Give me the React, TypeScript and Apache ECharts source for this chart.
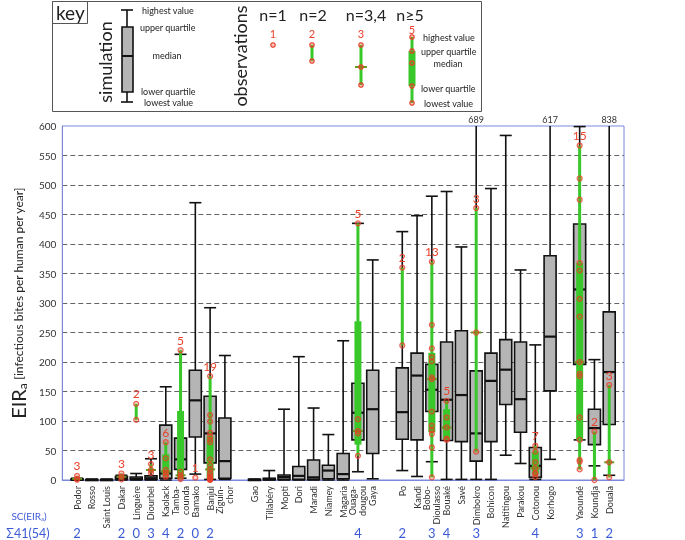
import React, { useEffect, useRef } from 'react';
import * as echarts from 'echarts';

const FONT = 'Lato';
const Y_MAX = 600;
const BLUE = '#7a88dd';
const BLUE_TXT = '#3b5bd6';
const GREEN = '#38c82a';
const RED = '#e8402a';

// site groups (blank category between groups)
const westSites = ['Podor', 'Rosso', 'Saint Louis', 'Dakar', 'Linguère', 'Diourbel', 'Kaolack', 'Tamba-\ncounda', 'Bamako', 'Banjul', 'Ziguin-\nchor'];
const sahelSites = ['Gao', 'Tillabéry', 'Mopti', 'Dori', 'Maradi', 'Niamey', 'Magaria', 'Ouaga-\ndougou', 'Gaya'];
const coastSites = ['Po', 'Kandi', 'Bobo-\nDioulasso', 'Bouaké', 'Savé', 'Dimbokro', 'Bohicon', 'Natitingou', 'Parakou', 'Cotonou', 'Korhogo'];
const centralSites = ['Yaoundé', 'Koundja', 'Douala'];

// simulation box statistics, aligned with the sites above (in order)
const simLow = [0, 0, 0, 0, 0, 0, 0, 3, 10, 1, 1, 0, 0, 0, 0, 0, 0, 0, 14, 2, 16, 6, 31, 1, 1, 1, 1, 42, 28, 1, 35, 68, 24, 8];
const simQ1 = [0, 0, 0, 1, 1, 1, 3, 18, 73, 29, 3, 0, 0.5, 1, 1, 1, 2, 2, 68, 45, 69, 68, 116, 67, 65, 32, 65, 128, 81, 4.5, 151, 196, 60, 94];
const simMedian = [0.5, 0.3, 0.3, 3, 2, 3, 11, 35, 135, 79, 32, 0.3, 1.5, 5, 7, 4.5, 16, 10, 114, 120, 115, 177, 153, 136, 144, 79, 168, 187, 137, 24, 243, 323, 88, 183];
const simQ3 = [2, 0.8, 0.8, 6, 5, 7, 93, 71, 186, 142, 105, 1, 3, 8.5, 23, 34, 25, 45, 164, 186, 190, 215, 196, 234, 253, 185, 215, 238, 234, 55, 380, 434, 120, 285];
const simHigh = [3, 1.5, 1.5, 8, 11, 36, 158, 213, 470, 292, 211, 1.5, 16, 120, 209, 122, 77, 236, 435, 373, 421, 448, 481, 489, 395, 689, 494, 584, 356, 229, 617, 599, 204, 838];

// observed EIR values per site
const observations: [string, number[]][] = [
  ['Podor', [0.5, 2, 7]],
  ['Dakar', [1, 5.5, 11]],
  ['Linguère', [102, 129]],
  ['Diourbel', [12, 17, 27]],
  ['Kaolack', [5.6, 8.5, 12.4, 17, 36.7, 64]],
  ['Tamba-\ncounda', [1.5, 4, 8, 14, 220]],
  ['Bamako', [4]],
  ['Banjul', [0.3, 0.5, 1, 1.5, 2, 3, 5, 8, 12, 18, 25, 35, 64, 68, 74, 80, 99, 110, 176]],
  ['Ouaga-\ndougou', [41, 79, 83, 103, 435]],
  ['Po', [228, 360]],
  ['Bobo-\nDioulasso', [4.5, 55, 78, 84, 92, 116, 171, 174, 201, 208, 223, 263, 370]],
  ['Bouaké', [68, 70, 89, 106, 134]],
  ['Dimbokro', [48, 250, 461]],
  ['Cotonou', [5, 10, 12, 20, 30, 48, 58]],
  ['Yaoundé', [18, 31, 34, 68, 106, 176, 180, 200, 277, 307, 355, 368, 475, 511, 567]],
  ['Koundja', [0, 82]],
  ['Douala', [4.5, 30, 161]],
];

// SC(EIRa) scores
const scScores: [string, string][] = [
  ['Podor', '2'], ['Dakar', '2'], ['Linguère', '0'], ['Diourbel', '3'], ['Kaolack', '4'],
  ['Tamba-\ncounda', '2'], ['Bamako', '0'], ['Banjul', '2'], ['Ouaga-\ndougou', '4'], ['Po', '2'],
  ['Bobo-\nDioulasso', '3'], ['Bouaké', '4'], ['Dimbokro', '3'], ['Cotonou', '4'],
  ['Yaoundé', '3'], ['Koundja', '1'], ['Douala', '2'],
];
const scTotal = 'Σ41(54)';

const categories = ['', ...westSites, '', ...sahelSites, '', ...coastSites, '', ...centralSites, ''];
const sites = [...westSites, ...sahelSites, ...coastSites, ...centralSites];
const catIndex = (s: string) => categories.indexOf(s);
const scFull = categories.map((c) => {
  const f = scScores.find((e) => e[0] === c && c !== '');
  return f ? f[1] : '';
});

function quantileExc(s: number[], p: number) {
  const n = s.length;
  const pos = p * (n + 1);
  if (pos <= 1) return s[0];
  if (pos >= n) return s[n - 1];
  const lo = Math.floor(pos);
  const fr = pos - lo;
  return s[lo - 1] + fr * (s[lo] - s[lo - 1]);
}

const simData = sites.map((s, i) => [catIndex(s), simLow[i], simQ1[i], simMedian[i], simQ3[i], simHigh[i]]);
const obsData = observations.map(([site, pts]) => {
  const s = [...pts].sort((a, b) => a - b);
  const n = s.length;
  const med = n % 2 ? s[(n - 1) / 2] : (s[n / 2 - 1] + s[n / 2]) / 2;
  const q1 = n >= 5 ? quantileExc(s, 0.25) : s[0];
  const q3 = n >= 5 ? quantileExc(s, 0.75) : s[n - 1];
  return [catIndex(site), s[0], q1, med, q3, s[n - 1], n];
});
const obsPoints = observations.flatMap(([site, pts]) => pts.map((v) => [catIndex(site), v]));

function keyGraphics() {
  const t = (text: string, x: number, y: number, size: number, align = 'left', fill = '#222', rotation = 0) => ({
    type: 'text', x, y, rotation,
    style: { text, x: 0, y: 0, fontSize: size, fontFamily: FONT, fill, align, verticalAlign: 'middle' },
  });
  const ln = (x1: number, y1: number, x2: number, y2: number, stroke = '#111', w = 1.6) => ({
    type: 'line', shape: { x1, y1, x2, y2 }, style: { stroke, lineWidth: w },
  });
  const pt = (x: number, y: number) => ({
    type: 'circle', shape: { cx: x, cy: y, r: 2.2 }, style: { fill: 'rgba(230,60,30,0.3)', stroke: RED, lineWidth: 1.2 },
  });
  return [
    { type: 'rect', shape: { x: 52.5, y: 1.5, width: 429, height: 110 }, style: { fill: '#fff', stroke: '#555', lineWidth: 1 } },
    { type: 'rect', shape: { x: 52.5, y: 1.5, width: 35, height: 22 }, style: { fill: 'none', stroke: '#555', lineWidth: 1 } },
    t('key', 56, 12, 19),
    t('simulation', 105, 62, 18, 'center', '#222', Math.PI / 2),
    ln(127, 10, 127, 27), ln(127, 92, 127, 102), ln(121, 10, 133, 10), ln(121, 102, 133, 102),
    { type: 'rect', shape: { x: 122, y: 27, width: 11, height: 65 }, style: { fill: '#b5b5b5', stroke: '#111', lineWidth: 1.6 } },
    ln(122, 56, 133, 56, '#111', 2),
    t('highest value', 142, 10, 9), t('upper quartile', 140, 27, 9), t('median', 167, 55, 9, 'center'),
    t('lower quartile', 141, 91, 9), t('lowest value', 144, 102, 9),
    t('observations', 240, 56, 18, 'center', '#222', Math.PI / 2),
    t('n=1', 273, 14, 16, 'center'), t('n=2', 313, 14, 16, 'center'), t('n=3,4', 366, 14, 16, 'center'), t('n≥5', 410, 14, 16, 'center'),
    t('1', 273, 33, 11, 'center', RED), pt(273, 45),
    t('2', 312, 33, 11, 'center', RED), ln(312, 45, 312, 61, GREEN, 3), pt(312, 45), pt(312, 61),
    t('3', 361, 33, 11, 'center', RED), ln(361, 45, 361, 85, GREEN, 3), ln(355, 67, 367, 67, '#6a9a20', 2), pt(361, 45), pt(361, 67), pt(361, 85),
    t('5', 412, 29, 11, 'center', RED), ln(412, 37, 412, 103, GREEN, 3),
    { type: 'rect', shape: { x: 408.5, y: 51, width: 7, height: 35 }, style: { fill: GREEN } },
    pt(412, 37), pt(412, 51), pt(412, 63), pt(412, 86), pt(412, 103),
    t('highest value', 423, 37, 9), t('upper quartile', 421, 51, 9), t('median', 448, 63, 9, 'center'),
    t('lower quartile', 421, 88, 9), t('lowest value', 424, 103, 9),
    {
      type: 'text', x: 29, y: 516,
      style: { text: 'SC(EIR{s|a})', fontSize: 10, fontFamily: FONT, fill: BLUE_TXT, align: 'center', verticalAlign: 'middle', rich: { s: { fontSize: 6, fontFamily: FONT, fill: BLUE_TXT, padding: [5, 0, 0, 0] } } },
    },
    t(scTotal, 28, 533, 12.5, 'center', BLUE_TXT),
  ];
}

export default function App() {
  const ref = useRef<HTMLDivElement>(null);
  useEffect(() => {
    if (!ref.current) return;
    const chart = echarts.init(ref.current, undefined, { renderer: 'svg' });
    const option: any = {
      animation: false,
      textStyle: { fontFamily: FONT },
      grid: { left: 52, top: 126, right: 61, bottom: 60, show: true, borderColor: BLUE, borderWidth: 1 },
      xAxis: [
        {
          type: 'category', data: categories, boundaryGap: false,
          axisLine: { lineStyle: { color: BLUE, width: 1 } }, axisTick: { show: false },
          axisLabel: { interval: 0, rotate: 90, fontSize: 9, color: '#333', fontFamily: FONT, margin: 6, lineHeight: 10 },
          splitLine: { show: false },
        },
        {
          type: 'category', data: categories, boundaryGap: false, position: 'bottom', offset: 46,
          axisLine: { show: false }, axisTick: { show: false }, splitLine: { show: false },
          axisLabel: { interval: 0, formatter: (_v: string, i: number) => scFull[i], fontSize: 13, color: BLUE_TXT, fontFamily: FONT, margin: 0 },
        },
      ],
      yAxis: {
        type: 'value', min: 0, max: Y_MAX, interval: 50,
        axisLine: { show: true, lineStyle: { color: BLUE } }, axisTick: { show: false },
        axisLabel: { fontSize: 10, color: '#333', fontFamily: FONT, margin: 6 },
        splitLine: { show: true, showMinLine: false, showMaxLine: false, lineStyle: { type: [5, 3], color: '#666', width: 1 } },
        name: '{e|EIR}{s|a} {t|[infectious bites per human per year]}',
        nameLocation: 'middle', nameGap: 34,
        nameTextStyle: {
          color: '#222',
          rich: {
            e: { fontSize: 20, fontFamily: FONT, color: '#222' },
            s: { fontSize: 12, fontFamily: FONT, color: '#222', padding: [8, 0, 0, 0] },
            t: { fontSize: 12, fontFamily: FONT, color: '#222' },
          },
        },
      },
      series: [
        {
          type: 'custom', name: 'simulation', data: simData, xAxisIndex: 0, z: 2,
          encode: { x: 0, y: [1, 2, 3, 4, 5] },
          renderItem: (_params: any, api: any) => {
            const x = api.value(0);
            const raw = [1, 2, 3, 4, 5].map((d) => api.value(d) as number);
            const p = raw.map((r) => api.coord([x, Math.min(r, Y_MAX)]));
            const cx = p[0][0];
            const hw = 6;
            const ls = { stroke: '#111', lineWidth: 1.6 };
            const children: any[] = [
              { type: 'line', shape: { x1: cx, y1: p[1][1], x2: cx, y2: p[0][1] }, style: ls },
              { type: 'line', shape: { x1: cx - hw, y1: p[0][1], x2: cx + hw, y2: p[0][1] }, style: ls },
              { type: 'line', shape: { x1: cx, y1: p[3][1], x2: cx, y2: p[4][1] }, style: ls },
            ];
            if (raw[4] <= Y_MAX) {
              children.push({ type: 'line', shape: { x1: cx - hw, y1: p[4][1], x2: cx + hw, y2: p[4][1] }, style: ls });
            } else {
              children.push({ type: 'text', style: { text: String(raw[4]), x: cx, y: p[4][1] - 2, align: 'center', verticalAlign: 'bottom', fontSize: 9, fontFamily: FONT, fill: '#333' } });
            }
            children.push({ type: 'rect', shape: { x: cx - hw, y: p[3][1], width: 2 * hw, height: Math.max(p[1][1] - p[3][1], 1) }, style: { fill: '#b5b5b5', stroke: '#111', lineWidth: 1.6 } });
            children.push({ type: 'line', shape: { x1: cx - hw, y1: p[2][1], x2: cx + hw, y2: p[2][1] }, style: { stroke: '#111', lineWidth: 2.2 } });
            return { type: 'group', children };
          },
        },
        {
          type: 'custom', name: 'observations', data: obsData, xAxisIndex: 0, z: 3,
          encode: { x: 0, y: [1, 2, 3, 4, 5] },
          renderItem: (_params: any, api: any) => {
            const x = api.value(0);
            const n = api.value(6) as number;
            const p = [1, 2, 3, 4, 5].map((d) => api.coord([x, api.value(d)]));
            const cx = p[0][0];
            const children: any[] = [];
            if (n >= 2) children.push({ type: 'line', shape: { x1: cx, y1: p[0][1], x2: cx, y2: p[4][1] }, style: { stroke: GREEN, lineWidth: 3 } });
            if (n >= 5) children.push({ type: 'rect', shape: { x: cx - 3.5, y: p[3][1], width: 7, height: p[1][1] - p[3][1] }, style: { fill: GREEN } });
            if (n >= 3) children.push({ type: 'line', shape: { x1: cx - 5, y1: p[2][1], x2: cx + 5, y2: p[2][1] }, style: { stroke: '#6a9a20', lineWidth: 2 } });
            children.push({ type: 'text', style: { text: String(n), x: cx, y: p[4][1] - 4, align: 'center', verticalAlign: 'bottom', fontSize: 12, fontFamily: FONT, fill: RED } });
            return { type: 'group', children };
          },
        },
        {
          type: 'scatter', name: 'points', data: obsPoints, xAxisIndex: 0, z: 4,
          symbol: 'circle', symbolSize: 5,
          itemStyle: { color: 'rgba(230,60,30,0.3)', borderColor: RED, borderWidth: 1.2 },
        },
      ],
      graphic: keyGraphics(),
    };
    chart.setOption(option);
    return () => chart.dispose();
  }, []);
  return <div ref={ref} style={{ position: 'fixed', left: 0, top: 0, width: 685, height: 540 }} />;
}
